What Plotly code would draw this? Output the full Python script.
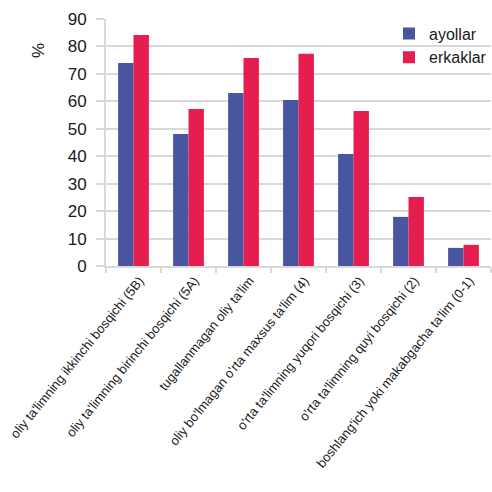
import plotly.graph_objects as go

categories = [
    "oliy ta'limning ikkinchi bosqichi (5B)",
    "oliy ta'limning birinchi bosqichi (5A)",
    "tugallanmagan oliy ta'lim",
    "oliy bo'lmagan o'rta maxsus ta'lim (4)",
    "o'rta ta'limning yuqori bosqichi (3)",
    "o'rta ta'limning quyi bosqichi (2)",
    "boshlang'ich yoki makabgacha ta'lim (0-1)",
]
ayollar = [74.0, 48.1, 63.0, 60.5, 40.8, 17.9, 6.6]
erkaklar = [84.2, 57.2, 75.8, 77.3, 56.5, 25.1, 7.7]
y_ticks = [0, 10, 20, 30, 40, 50, 60, 70, 80, 90]

FONT = "Liberation Sans, Arial, Helvetica, sans-serif"
GRID = "#d9d9d9"

fig = go.Figure()
fig.add_trace(go.Bar(name="ayollar", x=categories, y=ayollar,
                     marker=dict(color="#4a55a2", line=dict(width=0))))
fig.add_trace(go.Bar(name="erkaklar", x=categories, y=erkaklar,
                     marker=dict(color="#e61e50", line=dict(width=0))))

fig.update_layout(
    width=492, height=492,
    margin=dict(l=106, r=1, t=19, b=226, autoexpand=False),
    paper_bgcolor="white", plot_bgcolor="white",
    barmode="group", bargap=0.44, bargroupgap=0,
    font=dict(family=FONT, color="#1a1a1a", size=17),
    legend=dict(x=1.0026, y=1.01, xanchor="right", yanchor="top",
                font=dict(size=16), bgcolor="rgba(0,0,0,0)",
                borderwidth=0, itemwidth=30, tracegroupgap=0),
    xaxis=dict(
        automargin=False,
        tickangle=-51, tickfont=dict(size=13), ticklabelshift=6,
        showline=True, linecolor=GRID, linewidth=2,
        ticks="outside", ticklen=5, tickcolor=GRID, tickwidth=2,
        tickson="boundaries", showgrid=False,
    ),
    yaxis=dict(
        automargin=False,
        range=[0, 90], tickvals=y_ticks, tickfont=dict(size=17),
        ticklabelstandoff=6,
        showgrid=True, gridcolor=GRID, gridwidth=2,
        showline=True, linecolor=GRID, linewidth=2,
        ticks="outside", ticklen=8, tickcolor=GRID, tickwidth=2,
        zeroline=False,
    ),
    annotations=[dict(
        text="%", textangle=-90, xref="paper", yref="paper",
        x=-0.177, y=0.874, xanchor="center", yanchor="middle",
        showarrow=False, font=dict(size=17),
    )],
)

fig.write_html("out.html")
